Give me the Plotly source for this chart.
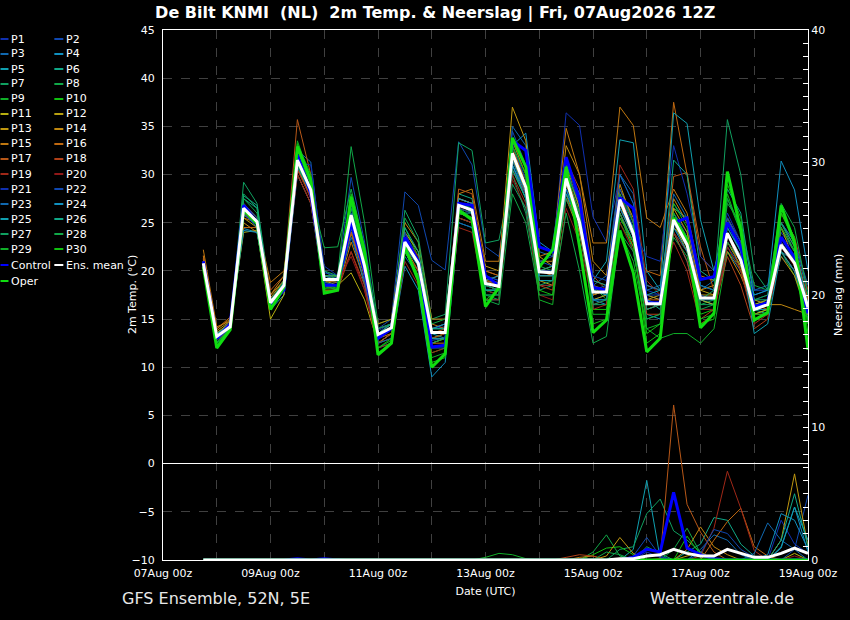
import pandas as pd
import plotly.graph_objects as go

times = pd.date_range("2026-08-07 18:00", periods=46, freq="6h")

# 2m temperature (deg C), 6-hourly, per ensemble member
T_P1 = [20.5, 13.0, 14.0, 26.0, 24.8, 16.5, 18.2, 31.0, 28.0, 19.5,
        19.3, 26.5, 21.0, 13.8, 14.5, 23.8, 21.5, 14.0, 14.2, 27.5,
        27.0, 19.5, 19.0, 33.5, 30.0, 21.0, 21.5, 36.4, 35.1, 25.6,
        23.0, 30.0, 27.0, 18.0, 17.5, 26.0, 24.0, 18.5, 18.0, 25.0,
        22.0, 16.5, 17.0, 24.0, 22.0, 17.0]
T_P2 = [20.8, 13.5, 14.5, 26.8, 25.5, 17.0, 18.8, 32.0, 29.0, 19.8,
        19.5, 29.7, 23.0, 14.0, 15.0, 28.2, 26.8, 21.1, 20.1, 33.4,
        31.0, 22.5, 21.5, 31.0, 27.5, 18.5, 18.5, 28.5, 24.0, 17.0,
        17.5, 28.0, 24.5, 17.5, 17.0, 24.5, 22.5, 17.0, 16.5, 22.5,
        20.5, 15.5, 16.0, 21.5, 20.0, 15.5]
T_P3 = [21.0, 13.4, 14.8, 26.2, 25.0, 16.5, 18.0, 32.5, 31.3, 20.0,
        19.0, 24.5, 19.5, 12.5, 13.5, 22.0, 20.0, 12.8, 13.0, 25.5,
        25.0, 18.0, 17.5, 35.0, 33.0, 22.0, 21.5, 31.5, 27.0, 18.5,
        19.5, 30.0, 28.0, 18.0, 18.5, 27.0, 25.0, 18.0, 19.0, 27.5,
        24.5, 18.0, 18.5, 25.0, 23.0, 17.5]
T_P4 = [20.5, 12.8, 14.0, 24.4, 24.0, 16.0, 17.5, 30.0, 27.0, 18.5,
        18.0, 24.0, 18.5, 12.0, 12.5, 20.5, 18.0, 9.0, 10.5, 25.0,
        24.5, 17.0, 17.0, 33.0, 34.3, 23.0, 22.0, 30.0, 26.0, 17.0,
        16.5, 26.0, 23.0, 15.5, 15.0, 24.0, 21.0, 16.0, 16.0, 22.0,
        20.0, 15.0, 15.5, 22.0, 20.0, 15.0]
T_P5 = [20.7, 13.0, 14.2, 26.5, 25.3, 16.8, 18.5, 31.0, 28.0, 19.0,
        18.8, 25.0, 20.0, 13.0, 14.0, 22.5, 20.5, 13.5, 13.0, 26.0,
        25.5, 18.0, 18.0, 31.0, 28.0, 19.0, 19.0, 29.0, 26.0, 19.0,
        21.0, 33.6, 33.3, 20.0, 18.0, 25.0, 23.0, 17.0, 16.5, 23.0,
        21.0, 16.0, 16.0, 22.0, 21.0, 16.5]
T_P6 = [20.9, 13.3, 14.3, 27.5, 26.5, 17.0, 18.8, 31.8, 28.5, 19.5,
        19.5, 27.0, 21.5, 14.0, 14.5, 24.0, 22.0, 14.0, 14.0, 28.0,
        27.5, 19.0, 18.5, 31.5, 28.0, 19.5, 19.5, 30.5, 26.5, 18.0,
        17.5, 27.0, 24.0, 17.0, 16.0, 26.5, 25.5, 18.5, 18.0, 25.5,
        22.5, 16.0, 15.5, 23.5, 21.5, 16.0]
T_P7 = [20.6, 12.8, 14.0, 29.2, 27.0, 17.5, 19.0, 32.5, 29.0, 20.0,
        19.5, 26.0, 20.5, 13.0, 14.0, 26.3, 23.5, 15.0, 15.5, 33.3,
        32.5, 22.9, 23.2, 30.0, 26.0, 18.0, 18.5, 28.0, 24.0, 16.5,
        16.5, 26.0, 22.0, 15.0, 15.5, 24.0, 22.0, 16.5, 16.5, 24.5,
        22.0, 16.5, 17.0, 23.5, 21.0, 16.0]
T_P8 = [20.4, 12.5, 13.8, 27.0, 25.5, 16.5, 18.5, 32.0, 28.5, 19.0,
        19.5, 32.9, 25.0, 14.5, 15.0, 23.5, 21.0, 13.0, 13.5, 27.0,
        26.5, 17.5, 17.0, 33.0, 29.5, 20.5, 20.0, 29.5, 25.5, 17.5,
        18.0, 25.5, 23.0, 16.0, 16.5, 23.5, 21.5, 16.5, 17.0, 27.0,
        25.0, 18.5, 18.0, 24.5, 22.0, 16.5]
T_P9 = [20.6, 12.2, 14.0, 26.0, 24.5, 16.0, 18.0, 33.5, 29.5, 18.0,
        18.0, 25.5, 20.5, 12.5, 13.0, 23.0, 20.5, 12.5, 13.0, 26.5,
        26.0, 18.5, 18.0, 30.5, 27.5, 20.0, 20.5, 30.0, 26.0, 18.5,
        17.0, 24.0, 21.0, 14.0, 13.0, 13.5, 13.5, 12.5, 14.0, 22.0,
        20.5, 15.5, 16.0, 22.0, 19.5, 15.0]
T_P10 = [20.5, 12.0, 14.2, 26.5, 25.0, 16.2, 18.3, 32.8, 29.0, 18.2,
         18.5, 28.0, 22.0, 12.0, 13.0, 24.5, 21.5, 11.5, 12.0, 27.5,
         27.0, 18.0, 17.5, 32.5, 29.0, 19.0, 19.0, 30.5, 26.5, 16.0,
         16.0, 25.0, 22.5, 13.5, 14.5, 27.0, 24.5, 15.5, 16.0, 28.0,
         24.0, 15.0, 15.5, 26.0, 23.0, 14.5]
T_P11 = [20.9, 13.5, 14.5, 24.0, 24.2, 15.0, 17.5, 30.5, 28.0, 19.0,
         18.5, 19.8, 17.0, 12.5, 13.5, 22.5, 21.0, 13.0, 13.5, 25.5,
         25.0, 18.5, 18.0, 31.5, 28.5, 19.5, 19.5, 29.0, 25.0, 17.5,
         18.0, 28.5, 25.5, 16.0, 16.5, 25.0, 22.0, 17.0, 16.5, 23.0,
         20.5, 15.5, 16.0, 23.0, 20.5, 16.0]
T_P12 = [21.0, 13.6, 14.6, 25.5, 24.5, 16.8, 18.6, 30.8, 27.8, 18.8,
         19.0, 24.0, 19.5, 13.0, 14.0, 22.0, 19.5, 12.5, 13.0, 27.0,
         26.0, 19.0, 18.8, 32.0, 28.0, 19.0, 18.5, 27.5, 24.0, 17.0,
         17.5, 26.5, 24.5, 17.5, 17.0, 24.5, 23.0, 18.0, 17.5, 24.0,
         21.5, 16.5, 17.0, 24.5, 21.0, 16.0]
T_P13 = [21.2, 13.8, 14.8, 26.0, 25.0, 17.2, 19.0, 30.5, 28.0, 19.5,
         19.5, 25.0, 20.0, 13.5, 14.5, 24.0, 22.0, 14.0, 14.5, 27.5,
         27.0, 20.5, 20.0, 37.0, 33.5, 21.5, 20.5, 31.0, 26.5, 18.5,
         18.0, 27.0, 23.5, 17.0, 17.5, 26.5, 24.0, 17.5, 17.5, 25.0,
         22.0, 17.0, 16.5, 21.5, 19.5, 15.5]
T_P14 = [21.5, 14.0, 15.0, 25.0, 24.0, 17.5, 19.5, 31.0, 27.5, 18.5,
         18.5, 24.5, 19.5, 14.5, 15.0, 25.0, 23.0, 15.0, 15.0, 26.0,
         25.5, 20.0, 19.5, 33.0, 29.0, 21.0, 21.0, 33.0, 30.0, 21.0,
         19.5, 29.0, 25.0, 18.5, 18.0, 27.5, 25.0, 18.0, 18.5, 22.0,
         19.5, 16.0, 16.5, 16.5, 16.0, 15.5]
T_P15 = [22.2, 14.2, 14.8, 25.5, 25.0, 18.8, 20.0, 30.0, 27.0, 18.0,
         18.0, 23.0, 19.0, 13.0, 13.5, 22.5, 20.0, 12.5, 12.5, 28.0,
         28.5, 21.0, 21.0, 33.5, 30.0, 21.5, 22.0, 34.8, 30.0, 22.9,
         22.9, 37.0, 35.1, 25.5, 24.5, 28.5, 26.0, 19.5, 19.0, 24.0,
         21.5, 16.0, 16.5, 24.5, 22.0, 17.0]
T_P16 = [21.6, 14.0, 15.2, 24.5, 24.5, 17.5, 19.0, 30.5, 28.0, 19.0,
         18.8, 24.0, 20.0, 14.0, 14.5, 23.5, 21.5, 14.5, 14.0, 27.5,
         27.0, 19.0, 19.5, 32.5, 29.5, 20.0, 19.5, 28.0, 24.0, 17.5,
         18.0, 26.0, 22.5, 20.0, 19.5, 37.5, 30.0, 21.5, 20.0, 25.5,
         23.0, 16.5, 16.0, 23.0, 21.0, 15.5]
T_P17 = [21.3, 13.5, 14.5, 25.8, 25.0, 18.0, 19.5, 35.7, 30.0, 19.5,
         19.0, 24.0, 19.5, 13.0, 14.0, 23.0, 21.0, 13.5, 14.0, 28.5,
         28.0, 20.0, 19.5, 32.0, 28.5, 20.0, 20.5, 30.0, 26.0, 19.0,
         18.5, 26.5, 23.5, 17.0, 17.0, 29.8, 30.2, 22.5, 18.0, 24.0,
         20.0, 15.5, 15.5, 25.0, 22.5, 17.0]
T_P18 = [21.0, 13.2, 14.6, 27.0, 25.5, 17.0, 18.5, 31.5, 28.5, 18.5,
         18.0, 22.0, 18.5, 12.5, 13.5, 22.0, 20.0, 13.0, 13.5, 26.5,
         26.0, 19.0, 18.5, 30.5, 28.0, 18.5, 18.0, 31.5, 28.5, 19.5,
         18.0, 28.0, 24.0, 15.5, 15.5, 24.0, 21.0, 15.0, 16.0, 21.5,
         18.5, 14.0, 15.0, 26.0, 23.5, 18.0]
T_P19 = [20.8, 13.0, 14.2, 26.0, 24.8, 16.5, 18.2, 30.5, 27.5, 18.5,
         18.5, 22.0, 18.0, 12.0, 12.5, 21.0, 18.5, 11.5, 12.0, 24.5,
         24.0, 17.0, 17.0, 30.0, 27.0, 18.5, 18.5, 27.5, 24.5, 16.0,
         16.5, 31.0, 28.5, 19.0, 17.5, 23.0, 20.0, 14.5, 15.5, 22.5,
         20.0, 14.5, 15.5, 22.0, 20.0, 16.0]
T_P20 = [20.6, 12.8, 14.0, 26.2, 25.0, 16.8, 18.5, 30.0, 27.0, 19.0,
         19.0, 21.5, 18.0, 12.5, 13.0, 23.5, 21.5, 13.0, 13.0, 25.5,
         25.0, 18.0, 17.5, 29.5, 26.5, 17.5, 17.0, 26.5, 23.0, 16.5,
         17.0, 25.0, 22.0, 16.0, 16.5, 24.0, 22.0, 16.0, 16.0, 23.0,
         21.0, 16.5, 16.5, 22.5, 20.5, 16.0]
T_P21 = [20.7, 13.1, 14.1, 27.0, 25.5, 16.5, 18.3, 31.2, 31.0, 20.5,
         19.5, 25.5, 20.5, 13.0, 14.0, 24.0, 21.0, 13.5, 13.5, 27.0,
         26.5, 18.5, 18.0, 33.0, 29.5, 20.0, 20.0, 28.5, 25.5, 17.0,
         17.0, 26.5, 24.0, 21.5, 21.0, 33.0, 28.0, 21.5, 20.0, 26.0,
         23.0, 17.0, 17.5, 23.5, 21.5, 16.5]
T_P22 = [20.9, 13.3, 14.4, 26.0, 24.5, 16.8, 18.8, 31.8, 28.0, 19.0,
         19.2, 26.0, 21.0, 14.0, 14.5, 22.5, 20.5, 14.0, 14.5, 26.5,
         26.0, 19.5, 19.0, 34.5, 31.0, 21.0, 20.5, 30.5, 27.0, 19.5,
         19.0, 28.5, 25.0, 17.5, 17.5, 26.0, 23.5, 17.5, 17.0, 25.5,
         23.0, 18.0, 18.0, 23.0, 21.0, 16.5]
T_P23 = [20.5, 12.9, 14.0, 25.8, 24.8, 16.4, 18.0, 30.8, 28.0, 18.8,
         18.5, 23.5, 19.0, 12.5, 13.0, 21.5, 19.5, 12.0, 12.0, 25.0,
         24.5, 17.5, 17.5, 31.5, 28.0, 19.0, 19.0, 29.5, 26.0, 18.0,
         18.5, 30.0, 27.0, 18.5, 18.0, 28.0, 25.5, 18.5, 18.0, 24.0,
         21.5, 17.5, 18.0, 25.0, 23.0, 18.5]
T_P24 = [20.6, 13.2, 14.5, 24.2, 24.0, 16.5, 18.5, 31.0, 28.5, 19.5,
         19.0, 24.5, 20.0, 13.5, 14.5, 23.0, 20.5, 14.0, 14.5, 27.5,
         27.0, 19.0, 19.5, 31.0, 27.5, 19.5, 19.5, 28.5, 25.0, 18.0,
         17.5, 27.0, 24.5, 17.0, 16.5, 24.5, 22.0, 17.0, 17.0, 24.5,
         22.0, 17.5, 18.0, 31.4, 28.4, 20.0]
T_P25 = [20.8, 13.4, 14.4, 26.5, 25.0, 16.8, 18.5, 31.5, 28.0, 19.0,
         19.0, 25.0, 20.0, 13.0, 14.0, 22.0, 19.5, 13.0, 13.0, 26.0,
         26.0, 18.0, 18.0, 32.0, 28.5, 19.0, 19.0, 28.0, 25.0, 17.0,
         17.0, 26.5, 23.5, 17.5, 18.0, 36.4, 35.3, 25.3, 20.0, 25.0,
         22.0, 13.5, 14.5, 22.0, 20.0, 15.5]
T_P26 = [21.0, 13.5, 14.5, 27.8, 26.8, 17.0, 18.5, 32.0, 28.5, 19.0,
         19.0, 27.0, 21.5, 13.5, 14.5, 24.5, 22.0, 14.0, 14.0, 27.0,
         26.0, 18.0, 18.0, 30.5, 27.5, 20.0, 20.5, 31.0, 28.0, 19.0,
         18.5, 27.5, 24.0, 16.0, 16.5, 31.5, 30.0, 20.0, 19.0, 28.5,
         26.0, 17.0, 17.0, 25.0, 22.5, 16.5]
T_P27 = [20.7, 13.0, 14.3, 28.0, 26.5, 16.5, 18.0, 31.0, 28.0, 19.5,
         19.5, 26.5, 21.0, 13.5, 14.0, 22.0, 19.5, 12.5, 13.0, 26.0,
         25.5, 18.5, 18.0, 29.0, 26.5, 18.5, 19.0, 27.5, 24.5, 16.5,
         17.0, 26.0, 23.0, 16.5, 16.5, 25.0, 22.5, 17.0, 18.0, 35.7,
         30.0, 20.0, 18.0, 25.0, 22.0, 16.0]
T_P28 = [20.4, 12.6, 14.0, 27.5, 26.0, 16.8, 19.0, 31.0, 28.0, 22.4,
         22.5, 28.5, 22.5, 14.0, 14.5, 25.5, 23.0, 14.5, 15.0, 26.5,
         25.5, 17.0, 16.5, 28.0, 25.0, 17.5, 17.5, 26.0, 20.0, 12.5,
         13.2, 24.0, 22.0, 15.0, 15.5, 26.0, 23.0, 16.0, 16.5, 23.0,
         21.0, 17.0, 17.5, 27.0, 24.5, 17.5]
T_P29 = [20.5, 12.3, 14.1, 26.8, 25.2, 16.3, 18.2, 33.0, 29.5, 18.2,
         18.2, 27.5, 21.5, 12.0, 12.8, 23.0, 20.5, 11.0, 11.5, 27.0,
         26.5, 17.5, 17.5, 32.0, 28.5, 17.0, 16.5, 29.5, 26.0, 15.5,
         15.5, 28.0, 25.0, 14.0, 14.5, 26.0, 23.5, 15.0, 15.5, 27.5,
         24.0, 15.5, 15.5, 24.5, 22.0, 14.5]
T_P30 = [20.6, 12.1, 14.0, 26.2, 24.8, 16.0, 18.0, 33.2, 30.0, 18.5,
         18.2, 27.0, 21.5, 11.5, 12.5, 22.5, 19.5, 10.5, 11.0, 26.0,
         25.5, 17.0, 18.0, 33.0, 30.0, 18.0, 17.5, 31.0, 27.5, 14.5,
         15.0, 25.5, 23.0, 12.5, 13.5, 25.0, 23.5, 14.5, 15.0, 29.0,
         25.5, 15.0, 15.5, 26.0, 23.5, 13.5]
T_CONTROL = [21.0, 13.0, 14.5, 26.8, 25.0, 16.5, 18.0, 32.0, 28.0, 18.5,
             18.5, 25.0, 20.0, 13.0, 14.0, 23.5, 21.0, 12.1, 12.3, 27.0,
             26.8, 19.5, 18.5, 33.5, 32.5, 22.5, 22.0, 31.8, 27.4, 18.3,
             18.0, 27.6, 26.5, 16.7, 16.7, 25.0, 25.5, 19.1, 19.4, 25.0,
             22.5, 16.3, 16.7, 23.5, 21.4, 15.6]
T_OPER = [20.4, 12.0, 13.9, 26.3, 24.9, 16.0, 18.3, 32.9, 29.4, 17.7,
          18.0, 27.7, 22.0, 11.3, 12.5, 22.5, 19.0, 10.0, 11.4, 26.3,
          25.3, 16.3, 18.3, 33.8, 30.8, 20.4, 22.2, 30.8, 22.5, 13.6,
          14.9, 24.2, 19.8, 11.6, 13.0, 25.5, 23.2, 14.1, 15.6, 30.3,
          24.2, 14.9, 15.7, 26.8, 22.9, 11.8]
T_MEAN = [20.8, 13.2, 14.2, 26.5, 25.1, 16.7, 18.5, 31.5, 28.4, 19.1,
          19.1, 25.8, 20.5, 13.4, 14.1, 23.0, 20.8, 13.6, 13.6, 26.8,
          26.3, 18.7, 18.4, 32.2, 28.7, 19.9, 19.8, 29.6, 25.0, 17.8,
          17.8, 27.4, 23.9, 16.6, 16.6, 25.3, 22.7, 17.2, 17.2, 23.9,
          21.1, 16.0, 16.5, 22.7, 20.8, 16.2]

# precipitation (mm per 6h)
R_P1 = [0, 0, 0, 0, 0, 0, 0, 0, 0, 0,  0.1, 0, 0, 0, 0, 0, 0, 0, 0, 0,
        0, 0, 0, 0, 0, 0, 0, 0, 0, 0,  0, 0, 0, 0, 0, 0, 0, 0, 0, 0,
        0, 0, 0, 3.0, 1.2, 0.5]
R_P2 = [0, 0, 0, 0, 0, 0, 0, 0, 0, 0,  0, 0, 0, 0, 0, 0, 0, 0, 0, 0,
        0, 0, 0, 0, 0, 0, 0, 0, 0, 0,  0, 0, 0.3, 1.7, 0.3, 0, 0, 0, 0, 0,
        0, 0, 0, 0, 0.8, 4.9]
R_P3 = [0, 0, 0, 0, 0, 0, 0, 0, 0, 0,  0, 0, 0, 0, 0, 0, 0, 0, 0, 0,
        0, 0, 0, 0, 0, 0, 0, 0, 0, 0,  0, 0, 0, 0, 0, 0, 0, 0.8, 1.9, 1.5,
        0.4, 0, 0, 0, 0, 0]
R_P4 = [0, 0, 0, 0, 0, 0, 0, 0, 0, 0,  0, 0, 0, 0, 0, 0, 0, 0, 0, 0,
        0, 0, 0, 0, 0, 0, 0, 0, 0, 0,  0, 0, 0, 0, 0, 0, 0, 0, 0, 0,
        0, 0, 0, 0.9, 4.0, 0.6]
R_P5 = [0, 0, 0, 0, 0, 0, 0, 0, 0, 0,  0, 0, 0, 0, 0, 0, 0, 0, 0, 0,
        0, 0, 0, 0, 0, 0, 0, 0, 0, 0,  0, 0, 0.8, 6.0, 0.1, 0, 0, 0, 0, 0,
        0, 0, 0, 0, 0, 0]
R_P6 = [0, 0, 0, 0, 0, 0, 0, 0, 0, 0,  0, 0, 0, 0, 0, 0, 0, 0, 0, 0,
        0, 0, 0, 0, 0, 0, 0, 0, 0, 0,  0, 0, 0, 0, 0, 0, 0.6, 1.2, 3.2, 3.0,
        1.2, 0.3, 0, 0, 0, 0]
R_P7 = [0, 0, 0, 0, 0, 0, 0, 0, 0, 0,  0, 0, 0, 0, 0, 0, 0, 0, 0, 0,
        0, 0, 0, 0, 0, 0, 0, 0, 0, 0,  0, 0.8, 1.0, 3.5, 4.6, 2.2, 1.5, 0.6, 0, 0,
        0, 0, 0, 0, 0, 0]
R_P8 = [0, 0, 0, 0, 0, 0, 0, 0, 0, 0,  0, 0, 0, 0, 0, 0, 0, 0, 0, 0,
        0, 0, 0, 0, 0, 0, 0, 0, 0, 0.6,  1.9, 0.3, 0, 0, 0, 0.8, 2.4, 0.5, 0, 0,
        0, 0, 0, 0, 0, 0]
R_P9 = [0, 0, 0, 0, 0, 0, 0, 0, 0, 0,  0, 0, 0, 0, 0, 0, 0, 0, 0, 0,
        0, 0.2, 0.5, 0.4, 0.1, 0, 0, 0, 0, 0,  0, 0, 0, 0, 0, 0, 0, 0, 0, 0,
        0, 0, 0, 0, 0, 0]
R_P10 = [0, 0, 0, 0, 0, 0, 0, 0, 0, 0,  0, 0, 0, 0, 0, 0, 0, 0, 0, 0,
         0, 0, 0, 0, 0, 0, 0, 0, 0, 0.4,  0.9, 1.0, 0.4, 0, 0, 0, 0, 0, 0, 0,
         0, 0, 0, 0, 0, 0]
R_P11 = [0, 0, 0, 0, 0, 0, 0, 0, 0, 0,  0, 0, 0, 0, 0, 0, 0, 0, 0, 0,
         0, 0, 0, 0, 0, 0, 0, 0, 0, 0,  0, 0, 0, 0, 0, 0, 0, 0, 0, 0,
         0, 0, 0, 0, 0.5, 0]
R_P12 = [0, 0, 0, 0, 0, 0, 0, 0, 0, 0,  0, 0, 0, 0, 0, 0, 0, 0, 0, 0,
         0, 0, 0, 0, 0, 0, 0, 0, 0, 0,  0, 0, 0, 0, 0, 0, 0.3, 0.6, 0, 0,
         0, 0, 0, 0, 0, 0]
R_P13 = [0, 0, 0, 0, 0, 0, 0, 0, 0, 0,  0, 0, 0, 0, 0, 0, 0, 0, 0, 0,
         0, 0, 0, 0, 0, 0, 0, 0, 0, 0,  0.3, 1.7, 0.5, 0, 0, 0, 0, 0, 0, 0,
         0, 0, 0, 1.5, 6.5, 1.0]
R_P14 = [0, 0, 0, 0, 0, 0, 0, 0, 0, 0,  0, 0, 0, 0, 0, 0, 0, 0, 0, 0,
         0, 0, 0, 0, 0, 0, 0, 0, 0, 0,  0, 0, 0, 0, 0, 0, 0.8, 2.5, 1.0, 0.4,
         0, 0, 0, 0, 0, 0]
R_P15 = [0, 0, 0, 0, 0, 0, 0, 0, 0, 0,  0, 0, 0, 0, 0, 0, 0, 0, 0, 0,
         0, 0, 0, 0, 0, 0, 0, 0, 0.2, 0.3,  0, 0, 0, 0, 0, 0, 0, 0, 0, 0,
         0, 0, 0, 0, 0, 0]
R_P16 = [0, 0, 0, 0, 0, 0, 0, 0, 0, 0,  0, 0, 0, 0, 0, 0, 0, 0, 0, 0,
         0, 0, 0, 0, 0, 0, 0, 0, 0, 0,  0, 0, 0, 0, 0, 0, 0, 0, 1.5, 2.9,
         3.9, 1.0, 0.3, 0, 0, 0]
R_P17 = [0, 0, 0, 0, 0, 0, 0, 0, 0, 0,  0, 0, 0, 0, 0, 0, 0, 0, 0, 0,
         0, 0, 0, 0, 0, 0, 0, 0, 0, 0,  0, 0, 0, 0, 0.1, 11.7, 4.2, 2.1, 0.6, 0,
         0, 0, 0, 0, 0, 0]
R_P18 = [0, 0, 0, 0, 0, 0, 0, 0, 0, 0,  0, 0, 0, 0, 0, 0, 0, 0, 0, 0,
         0, 0, 0, 0, 0, 0, 0, 0.2, 0.4, 0.3,  0, 0, 0, 0, 0, 0, 0, 0, 0, 0,
         0, 0, 0, 0, 0, 0]
R_P19 = [0, 0, 0, 0, 0, 0, 0, 0, 0, 0,  0, 0, 0, 0, 0, 0, 0, 0, 0, 0,
         0, 0, 0, 0, 0, 0, 0, 0, 0, 0,  0, 0, 0, 0, 0, 0, 0, 0.3, 2.4, 6.7,
         3.9, 0.7, 0, 0, 0, 0]
R_P20 = [0, 0, 0, 0, 0, 0, 0, 0, 0, 0,  0, 0, 0, 0, 0, 0, 0, 0, 0, 0,
         0, 0, 0, 0, 0, 0, 0, 0, 0, 0,  0, 0, 0, 0, 0, 0, 0, 0, 0, 0,
         0, 0, 0, 0, 0.3, 0]
R_P21 = [0, 0, 0, 0, 0, 0, 0, 0, 0, 0,  0, 0, 0, 0, 0, 0, 0, 0, 0, 0,
         0, 0, 0, 0, 0, 0, 0, 0, 0, 0,  0, 0, 0, 0.6, 0.2, 0, 0, 0, 0, 0,
         0, 0, 0, 0, 0, 0]
R_P22 = [0, 0, 0, 0, 0, 0, 0, 0, 0, 0,  0, 0, 0, 0, 0, 0, 0, 0, 0, 0,
         0, 0, 0, 0, 0, 0, 0, 0, 0, 0,  0, 0, 0, 0, 0, 0, 0, 0.5, 2.3, 2.0,
         0.8, 0.2, 0, 0, 0, 0]
R_P23 = [0, 0, 0, 0, 0, 0, 0, 0, 0, 0,  0, 0, 0, 0, 0, 0, 0, 0, 0, 0,
         0, 0, 0, 0, 0, 0, 0, 0, 0, 0,  0, 0, 0, 0, 0, 0, 0, 0, 0, 0,
         0, 0.5, 2.8, 1.5, 0.8, 0]
R_P24 = [0, 0, 0, 0, 0, 0, 0, 0, 0, 0,  0, 0, 0, 0, 0, 0, 0, 0, 0, 0,
         0, 0, 0, 0, 0, 0, 0, 0, 0, 0,  0, 0, 0, 0, 0, 0, 0, 0, 0, 0,
         0, 0, 0.4, 3.5, 3.0, 0.8]
R_P25 = [0, 0, 0, 0, 0, 0, 0, 0, 0, 0,  0, 0, 0, 0, 0, 0, 0, 0, 0, 0,
         0, 0, 0, 0, 0, 0, 0, 0, 0, 0,  0, 0, 0, 0, 0, 0, 0, 0, 0, 0,
         0, 0, 0, 1.0, 4.0, 1.5]
R_P26 = [0, 0, 0, 0, 0, 0, 0, 0, 0, 0,  0, 0, 0, 0, 0, 0, 0, 0, 0, 0,
         0, 0, 0, 0, 0, 0, 0, 0, 0, 0,  0, 0, 0, 0, 0, 0, 0, 0, 0, 0,
         0, 0, 0, 1.5, 5.0, 1.0]
R_P27 = [0, 0, 0, 0, 0, 0, 0, 0, 0, 0,  0, 0, 0, 0, 0, 0, 0, 0, 0, 0,
         0, 0, 0, 0, 0, 0, 0, 0, 0, 0,  0, 0, 0, 1.0, 0.5, 0, 0, 0, 0, 0,
         0, 0, 0, 0, 0, 0]
R_P28 = [0, 0, 0, 0, 0, 0, 0, 0, 0, 0,  0, 0, 0, 0, 0, 0, 0, 0, 0, 0,
         0, 0, 0, 0, 0, 0, 0, 0, 0, 0,  0.6, 0.4, 0, 0, 0, 0, 0, 0, 0, 0,
         0, 0, 0, 0, 0, 0]
R_P29 = [0, 0, 0, 0, 0, 0, 0, 0, 0, 0,  0, 0, 0, 0, 0, 0, 0, 0, 0, 0,
         0, 0, 0, 0, 0, 0, 0, 0, 0, 0,  0, 0, 0, 0, 0, 0, 0, 0, 0, 0,
         0, 0, 0, 0, 0, 0]
R_P30 = [0, 0, 0, 0, 0, 0, 0, 0, 0, 0,  0, 0, 0, 0, 0, 0, 0, 0, 0, 0,
         0, 0, 0, 0, 0, 0, 0, 0, 0, 0,  0, 0, 0, 0, 0, 0, 1.8, 0.4, 0, 0,
         0, 0, 0, 0, 0, 0]
R_CONTROL = [0, 0, 0, 0, 0, 0, 0, 0.1, 0, 0.1,  0, 0, 0, 0, 0, 0, 0, 0, 0, 0,
             0, 0, 0, 0, 0, 0, 0, 0, 0, 0,  0, 0, 0.2, 0.8, 0.6, 5.1, 0.9, 0.4, 0.1, 0,
             0, 0, 0, 0, 0, 0]
R_OPER = [0, 0, 0, 0, 0, 0, 0, 0, 0, 0,  0, 0, 0, 0, 0, 0, 0, 0, 0, 0,
          0, 0, 0, 0, 0, 0, 0, 0, 0, 0,  0, 0, 0, 0, 0, 0, 0, 0, 0, 0,
          0, 0, 0, 0, 0, 0]
R_MEAN = [0, 0, 0, 0, 0, 0, 0, 0, 0, 0,  0, 0, 0, 0, 0, 0, 0, 0, 0, 0,
          0, 0, 0, 0, 0, 0, 0, 0, 0, 0,  0, 0.1, 0.1, 0.3, 0.4, 0.8, 0.5, 0.3, 0.3, 0.8,
          0.5, 0.2, 0.2, 0.5, 0.9, 0.5]

temp_members = [T_P1, T_P2, T_P3, T_P4, T_P5, T_P6, T_P7, T_P8, T_P9, T_P10,
                T_P11, T_P12, T_P13, T_P14, T_P15, T_P16, T_P17, T_P18, T_P19, T_P20,
                T_P21, T_P22, T_P23, T_P24, T_P25, T_P26, T_P27, T_P28, T_P29, T_P30]
rain_members = [R_P1, R_P2, R_P3, R_P4, R_P5, R_P6, R_P7, R_P8, R_P9, R_P10,
                R_P11, R_P12, R_P13, R_P14, R_P15, R_P16, R_P17, R_P18, R_P19, R_P20,
                R_P21, R_P22, R_P23, R_P24, R_P25, R_P26, R_P27, R_P28, R_P29, R_P30]
member_names = [f"P{i}" for i in range(1, 31)]

base_colors = ["#1030b0", "#1048b0", "#1068b0", "#1090c0", "#10a0b0",
               "#10a888", "#10a060", "#10a848", "#10b028", "#10c010",
               "#b8b010", "#b8a010", "#c09810", "#c08810", "#c07810",
               "#c06810", "#b85818", "#b04018", "#a02818", "#901818"]
member_colors = base_colors + base_colors[:10]
CONTROL_COLOR = "#0000ff"
MEAN_COLOR = "#ffffff"
OPER_COLOR = "#10dd10"

FONT = "DejaVu Sans"
W, H = 850, 620
ML, MR, MT, MB = 163, 40, 30, 60


def paper_x(px):
    return (px - ML) / (W - ML - MR)


def paper_y(py):
    return (H - MB - py) / (H - MT - MB)


fig = go.Figure()

for name, color, t, r in zip(member_names, member_colors, temp_members, rain_members):
    fig.add_trace(go.Scatter(x=times, y=t, mode="lines", name=name,
                             line=dict(color=color, width=1), showlegend=False))
    fig.add_trace(go.Scatter(x=times, y=r, mode="lines", name=name, yaxis="y2",
                             line=dict(color=color, width=1), showlegend=False))

for name, color, t, r in [("Control", CONTROL_COLOR, T_CONTROL, R_CONTROL),
                          ("Oper", OPER_COLOR, T_OPER, R_OPER),
                          ("Ens. mean", MEAN_COLOR, T_MEAN, R_MEAN)]:
    fig.add_trace(go.Scatter(x=times, y=t, mode="lines", name=name,
                             line=dict(color=color, width=3), showlegend=False))
    fig.add_trace(go.Scatter(x=times, y=r, mode="lines", name=name, yaxis="y2",
                             line=dict(color=color, width=3), showlegend=False))

# hand-drawn two-column legend on the left
col_a = member_names[0::2] + ["Control", "Oper"]
col_a_colors = member_colors[0::2] + [CONTROL_COLOR, OPER_COLOR]
col_b = member_names[1::2] + ["Ens. mean"]
col_b_colors = member_colors[1::2] + [MEAN_COLOR]
row_y = [39 + 15 * k for k in range(15)] + [265, 281]

shapes = []
annotations = []
for names, colors, x0, x1, xt in [(col_a, col_a_colors, 0, 8, 9), (col_b, col_b_colors, 54, 63, 64)]:
    for name, color, py in zip(names, colors, row_y):
        shapes.append(dict(type="line", xref="paper", yref="paper",
                           x0=paper_x(x0), x1=paper_x(x1), y0=paper_y(py), y1=paper_y(py),
                           line=dict(color=color, width=2)))
        annotations.append(dict(text=name, xref="paper", yref="paper",
                                x=paper_x(xt), y=paper_y(py), xanchor="left", yanchor="middle",
                                showarrow=False, font=dict(family=FONT, size=11, color="white")))

# axis titles placed as rotated text, as in the original image
annotations.append(dict(text="2m Temp. (°C)", xref="paper", yref="paper",
                        x=paper_x(132), y=0.5, xanchor="center", yanchor="middle", textangle=-90,
                        showarrow=False, font=dict(family=FONT, size=11, color="white")))
annotations.append(dict(text="Neerslag (mm)", xref="paper", yref="paper",
                        x=paper_x(840), y=0.5, xanchor="center", yanchor="middle", textangle=-90,
                        showarrow=False, font=dict(family=FONT, size=11, color="white")))

annotations.append(dict(text="GFS Ensemble, 52N, 5E", xref="paper", yref="paper",
                        x=paper_x(120), y=paper_y(598), xanchor="left", yanchor="middle",
                        showarrow=False, font=dict(family=FONT, size=16, color="#e8e8e8")))
annotations.append(dict(text="Wetterzentrale.de", xref="paper", yref="paper",
                        x=paper_x(650), y=paper_y(598), xanchor="left", yanchor="middle",
                        showarrow=False, font=dict(family=FONT, size=16, color="#e8e8e8")))

grid = "#404040"
fig.update_layout(
    width=W, height=H,
    margin=dict(l=ML, r=MR, t=MT, b=MB),
    paper_bgcolor="black", plot_bgcolor="black",
    font=dict(family=FONT, size=11, color="white"),
    title=dict(text="<b>De Bilt KNMI\u00a0\u00a0(NL)\u00a0\u00a02m Temp. & Neerslag | Fri, 07Aug2026 12Z</b>",
               x=0.512, xanchor="center", y=1 - 12 / H, yanchor="middle",
               font=dict(family=FONT, size=16, color="white")),
    xaxis=dict(range=["2026-08-07 00:00", "2026-08-19 00:00"], type="date",
               dtick=2 * 86400000, tick0="2026-08-07", tickformat="%d%b %Hz",
               showgrid=True, gridcolor=grid, griddash="dash", gridwidth=1,
               minor=dict(dtick=86400000, showgrid=True, gridcolor=grid, griddash="dash"),
               showline=True, linecolor="white", linewidth=1, mirror=True,
               ticks="outside", ticklen=3, tickcolor="rgba(0,0,0,0)", tickfont=dict(size=11),
               title=dict(text="Date (UTC)", font=dict(size=11), standoff=8)),
    yaxis=dict(range=[-10, 45], dtick=5, showgrid=True, gridcolor=grid, griddash="dash",
               zeroline=True, zerolinecolor="white", zerolinewidth=1,
               showline=True, linecolor="white", linewidth=1, mirror=True,
               ticks="outside", ticklen=5, tickcolor="rgba(0,0,0,0)", tickfont=dict(size=11)),
    yaxis2=dict(range=[0, 40], dtick=10, overlaying="y", side="right",
                showgrid=False, zeroline=False,
                showline=True, linecolor="white", linewidth=1,
                ticks="inside", ticklen=5, tickcolor="white",
                minor=dict(dtick=1, ticks="inside", ticklen=5, tickcolor="white"),
                tickfont=dict(size=11)),
    shapes=shapes,
    annotations=annotations,
)

fig.write_html("out.html", config={"displayModeBar": False},
               post_script="document.body.style.margin='0';")
